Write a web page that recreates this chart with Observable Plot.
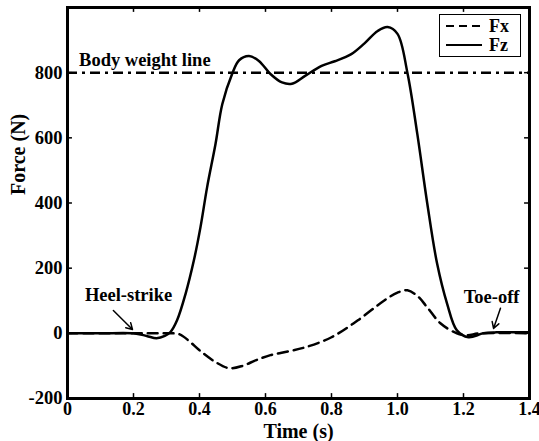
<!DOCTYPE html>
<html>
<head>
<meta charset="utf-8">
<script src="https://cdn.jsdelivr.net/npm/d3@7"></script>
<script src="https://cdn.jsdelivr.net/npm/@observablehq/plot@0.6"></script>
<style>
  body { margin: 0; background: #fff; }
  #wrap { position: relative; width: 539px; height: 441px; }
  #legend { position: absolute; left: 439px; top: 14px; width: 80px; height: 41px; border: 1.5px solid #000; background: #fff; }
</style>
</head>
<body>
<div id="wrap"></div>
<script>
// Data
const fzTime = [0, 0.10, 0.20, 0.24, 0.27, 0.295, 0.312, 0.332, 0.358, 0.383, 0.403, 0.423, 0.4485, 0.469, 0.4985, 0.52, 0.55, 0.58, 0.615, 0.65, 0.68, 0.72, 0.77, 0.81, 0.86, 0.90, 0.94, 0.97, 1.00, 1.03, 1.06, 1.09, 1.12, 1.15, 1.18, 1.215, 1.26, 1.30, 1.40];
const fzValue = [0, 0, 0, -8, -15, -8, 4, 40, 122, 224, 326, 448, 581, 703, 795, 838, 851, 836, 796, 770, 766, 790, 821, 835, 857, 890, 928, 940, 919, 800, 612, 400, 214, 92, 9, -12, 0, 3, 3];
const fxTime = [0, 0.20, 0.30, 0.34, 0.37, 0.40, 0.45, 0.49, 0.53, 0.57, 0.615, 0.67, 0.72, 0.80, 0.88, 0.96, 1.00, 1.03, 1.06, 1.09, 1.13, 1.18, 1.21, 1.25, 1.40];
const fxValue = [0, 0, 0, -3, -25, -52, -89, -107, -100, -83, -67, -55, -43, -12, 40, 101, 125, 132, 115, 80, 31, 0, -6, 0, 0];
const bodyWeight = 800;
const xTicks = [0, 0.2, 0.4, 0.6, 0.8, 1.0, 1.2, 1.4];
const yTicks = [-200, 0, 200, 400, 600, 800];
const noteLabels = ["Body weight line", "Heel-strike", "Toe-off"];
const noteX = [0.035, 0.185, 1.285];
const noteY = [838, 116, 110];
const arrowX1 = [0.139, 1.312];
const arrowY1 = [70, 77];
const arrowX2 = [0.197, 1.291];
const arrowY2 = [12, 15];
const seriesNames = ["Fx", "Fz"];

const fz = fzTime.map((t, i) => ({t, v: fzValue[i]}));
const fx = fxTime.map((t, i) => ({t, v: fxValue[i]}));
const notes = noteLabels.map((label, i) => ({label, x: noteX[i], y: noteY[i]}));
const arrows = arrowX1.map((x1, i) => ({x1, y1: arrowY1[i], x2: arrowX2[i], y2: arrowY2[i]}));

const font = "Liberation Serif, Times New Roman, serif";
const tx = 0.015, ty = 15;

const chart = Plot.plot({
  width: 539,
  height: 441,
  marginLeft: 67,
  marginRight: 10,
  marginTop: 7,
  marginBottom: 43,
  x: {domain: [0, 1.4]},
  y: {domain: [-200, 1000]},
  style: {fontFamily: font, fontWeight: "bold", fontSize: "18px", background: "#fff", color: "#000", overflow: "visible"},
  marks: [
    Plot.axisX(xTicks, {tickSize: 0, tickPadding: 4, fontSize: 18, fontWeight: "bold",
      tickFormat: d => d === 0 ? "0" : d.toFixed(1), label: null}),
    Plot.axisY(yTicks, {tickSize: 0, tickPadding: 5, fontSize: 18.5, fontWeight: "bold",
      tickFormat: d => String(d), label: null}),
    Plot.text(["Time (s)"], {frameAnchor: "bottom", lineAnchor: "middle", dy: 33, fontSize: 20, fontWeight: "bold"}),
    Plot.text(["Force (N)"], {frameAnchor: "left", dx: -49, dy: -8, rotate: -90, fontSize: 20, fontWeight: "bold"}),
    // inward ticks
    Plot.ruleY(yTicks, {y: d => d, x1: 0, x2: tx, strokeWidth: 1.5}),
    Plot.ruleY(yTicks, {y: d => d, x1: 1.4 - tx, x2: 1.4, strokeWidth: 1.5}),
    Plot.ruleX(xTicks, {x: d => d, y1: -200, y2: -200 + ty, strokeWidth: 1.5}),
    Plot.ruleX(xTicks, {x: d => d, y1: 1000 - ty, y2: 1000, strokeWidth: 1.5}),
    Plot.ruleY([bodyWeight], {x1: 0, x2: 1.4, strokeWidth: 2.5, strokeDasharray: "10,5,3,5"}),
    Plot.line(fx, {x: "t", y: "v", curve: "catmull-rom", strokeWidth: 2.5, strokeDasharray: "10,6"}),
    Plot.line(fz, {x: "t", y: "v", curve: "catmull-rom", strokeWidth: 2.5}),
    Plot.arrow(arrows, {x1: "x1", y1: "y1", x2: "x2", y2: "y2", strokeWidth: 1.5, headLength: 7}),
    Plot.text(notes.slice(0, 1), {x: "x", y: "y", text: "label", textAnchor: "start", fontSize: 18.5, fontWeight: "bold"}),
    Plot.text(notes.slice(1), {x: "x", y: "y", text: "label", textAnchor: "middle", fontSize: 18.5, fontWeight: "bold"}),
    Plot.frame({strokeWidth: 3})
  ]
});

const wrap = document.getElementById("wrap");
wrap.appendChild(chart);

// Legend
const legend = document.createElement("div");
legend.id = "legend";
const ns = "http://www.w3.org/2000/svg";
const lsvg = document.createElementNS(ns, "svg");
lsvg.setAttribute("width", "80");
lsvg.setAttribute("height", "41");
const dashes = ["8,5", null];
seriesNames.forEach((name, i) => {
  const yy = 11 + i * 19;
  const line = document.createElementNS(ns, "line");
  line.setAttribute("x1", "6"); line.setAttribute("x2", "42");
  line.setAttribute("y1", yy); line.setAttribute("y2", yy);
  line.setAttribute("stroke", "#000"); line.setAttribute("stroke-width", "2.2");
  if (dashes[i]) line.setAttribute("stroke-dasharray", dashes[i]);
  lsvg.appendChild(line);
  const t = document.createElementNS(ns, "text");
  t.setAttribute("x", "49"); t.setAttribute("y", yy + 6);
  t.setAttribute("font-family", font);
  t.setAttribute("font-weight", "bold");
  t.setAttribute("font-size", "18");
  t.textContent = name;
  lsvg.appendChild(t);
});
legend.appendChild(lsvg);
wrap.appendChild(legend);
</script>
</body>
</html>
